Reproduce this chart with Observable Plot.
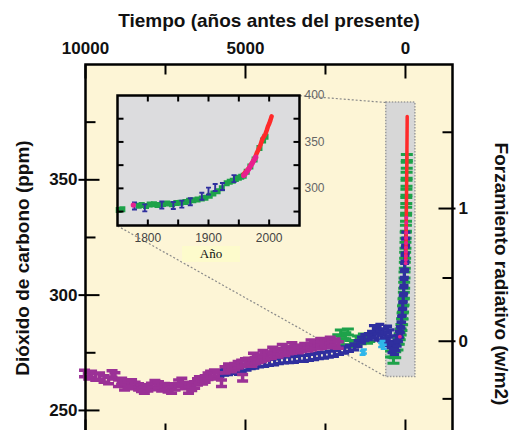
<!DOCTYPE html>
<html><head><meta charset="utf-8">
<script src="https://cdn.jsdelivr.net/npm/d3@7"></script>
<script src="https://cdn.jsdelivr.net/npm/@observablehq/plot@0.6"></script>
<style>
html,body{margin:0;padding:0;background:#fff;overflow:hidden;}
#wrap{position:relative;width:512px;height:430px;overflow:hidden;}
#wrap svg{position:absolute;left:0;top:0;}
#ano{position:absolute;font:13px "Liberation Serif","Times New Roman",serif;background:#fdfbcc;text-align:center;color:#111;}
</style></head>
<body><div id="wrap"></div>
<script>
// ---------- text ----------
const xTitle = "Tiempo (años antes del presente)";
const yTitle = "Dióxido de carbono (ppm)";
const y2Title = "Forzamiento radiativo (w/m2)";
const insetXTitle = "Año";

// ---------- axes ----------
const xMajor = [10000, 5000, 0];
const xMinor = [7500, 2500];
const yMajor = [250, 300, 350];
const yMinor = [275, 325, 375];
const fMajor = [0, 1];
const fMinor = [-0.5, 0.5, 1.5];
const insetXTicks = [1800, 1850, 1900, 1950, 2000];
const insetXLabels = [1800, 1900, 2000];
const insetYTicks = [275, 300, 325, 350, 375];
const insetYLabels = [300, 350, 400];
const PRESENT = 1950;      // "antes del presente" reference year
const F_C0 = 280, F_K = 5.35; // radiative forcing = K ln(C/C0)

// ---------- main series (años antes del presente, ppm) ----------
const purpleAge = [10030,9900,9810,9680,9560,9420,9280,9170,9080,8970,8870,8780,8670,8560,8450,8340,8250,8160,8050,7940,7830,7720,7620,7530,7420,7310,7200,7090,6990,6880,6780,6680,6590,6500,6440,6340,6260,6170,6090,5970,5860,5750,5640,5530,5440,5340,5230,5120,5090,5000,4910,4800,4750,4700,4600,4500,4450,4400,4300,4190,4150,4090,3980,3875,3850,3770,3660,3560,3550,3460,3350,3250,3150,3050,2950,2940,2840,2730,2650,2625,2520,2420,2350,2310,2200,2100];
const purpleCO2 = [266.0,265.0,265.6,264.5,264.8,263.6,263.0,265.8,265.0,261.8,262.6,260.2,261.0,261.9,260.8,260.2,259.6,258.8,259.8,260.4,261.6,261.0,259.8,260.3,259.4,258.8,260.2,261.8,262.6,260.8,258.8,260.0,261.0,262.4,263.2,262.8,263.6,264.8,265.6,266.2,265.0,261.8,267.6,268.8,268.2,269.0,269.8,270.4,264.2,271.0,271.2,270.6,273.4,271.6,272.2,272.6,274.6,273.2,273.8,274.0,276.0,274.8,274.6,275.5,277.2,275.2,276.0,276.2,278.0,276.8,276.4,276.9,277.6,277.2,279.2,277.6,278.4,278.0,279.8,278.4,279.0,278.6,280.4,279.1,279.6,278.4];

const blueAge = [5800,5650,5530,5400,5220,5100,4950,4820,4710,4560,4400,4250,4090,3940,3780,3620,3470,3310,3160,3000,2840,2690,2530,2380,2220,2060,1900,1750,1590,1480,1375,1270,1160,1060,1000,970,900,860,800,750,700,640,600,560,530,480,450,420,375,340,300,260,220,190,160,140,120,100,85,70,55,45,35,25,15,5,-5,-12];
const blueCO2 = [266.0,266.6,266.8,267.4,267.0,268.2,268.8,269.4,269.7,270.2,270.4,270.8,271.1,271.6,271.9,272.0,272.2,272.6,272.6,273.0,273.3,273.8,274.0,274.4,274.8,275.6,276.2,276.9,277.6,279.0,280.5,281.6,282.0,283.0,285.5,282.7,284.6,281.8,286.0,281.5,284.0,282.5,279.5,285.2,280.5,283.6,278.6,276.4,277.8,275.6,277.2,279.2,281.2,283.0,285.0,287.0,289.5,292.5,295.5,298.5,302.0,305.5,309.0,312.5,316.0,319.5,323.0,326.0];

const greenAge = [2100,2020,1950,1880,1800,1720,1480,1400,1300,1200,1130,450,375,320,250,210,180,150,125,105,90,75,60,50,40,30,20,10,0,-8,-14,-18,-22,-26,-30,-33,-36,-40,-43];
const greenCO2 = [281.5,283.6,279.8,282.4,284.0,279.0,281.0,280.2,281.8,280.4,281.2,274.5,271.8,274.2,277.5,280.0,282.0,284.0,286.0,288.5,291.0,294.0,297.0,300.0,304.3,308.7,313.0,317.3,321.6,326.0,329.0,333.3,336.8,341.0,344.6,348.5,352.0,356.3,359.7];

const cyanAge = [1340,1300,760,720,680];
const cyanCO2 = [275.0,275.6,278.4,279.2,277.6];

// ---------- recent series (año, ppm) ----------
const redYear = [1958,1960,1962,1964,1966,1968,1970,1972,1974,1976,1978,1980,1982,1984,1986,1988,1990,1992,1994,1996,1998,2000,2002,2004];
const redCO2  = [315.3,316.9,318.4,319.6,321.4,323.0,325.7,327.4,330.2,332.0,335.4,338.7,341.4,344.4,347.4,351.6,354.4,356.4,358.8,362.6,366.7,369.6,373.2,377.5];
const magentaYear = [1776,1958,1960,1962,1964,1966,1968,1970,1972,1974,1976,1978];
const magentaCO2  = [282.0,313.8,315.2,317.0,318.8,320.6,322.6,324.8,327.0,329.2,331.4,333.6];
const insetGreenYear = [1752,1758,1785,1790,1797,1803,1810,1816,1825,1832,1840,1847,1854,1862,1868,1875,1882,1889,1895,1902,1908,1915,1922,1930,1935,1940,1945,1950,1954,1958,1963,1969,1976,1984,1990,1994];
const insetGreenCO2  = [276.6,277.4,281.4,282.0,281.0,282.6,283.0,282.2,283.2,283.6,283.0,284.2,284.6,285.4,286.6,287.2,288.0,289.0,290.0,292.0,294.5,297.0,300.0,305.5,307.0,308.2,310.0,311.4,312.6,313.6,318.0,323.5,331.0,343.5,351.5,355.5];
const insetBlueYear = [1778,1795,1823,1842,1856,1870,1889,1900,1911,1923,1942];
const insetBlueCO2  = [281.0,279.0,282.0,281.6,283.0,285.5,291.5,297.0,301.0,302.0,310.5];

// ---------- highlighted region & inset placement (main data units) ----------
const zoomBox = {age1: 600, age2: -310, co2lo: 264.5, co2hi: 383.5};
const insetBox = {age1: 9000, age2: 3300, co2lo: 330, co2hi: 386.5};

// ---------- colours ----------
const PURPLE = "#9b3196", BLUE = "#2f2f9e", GREEN = "#1ea24a", CYAN = "#2fb6ea",
      RED = "#ff2a2a", MAGENTA = "#e8208e", BG = "#fdf5d6", GREYBOX = "#d7d7d7", INSETBG = "#dcdcde";
const FONT = '"Liberation Sans", Arial, Helvetica, sans-serif';

// ---------- helpers ----------
const zip = (a, b, ka, kb) => a.map((v, i) => ({[ka]: v, [kb]: b[i]}));
const seg = (x0, y0, x1, y1) => ({draw(c) { c.moveTo(x0, y0); c.lineTo(x1, y1); }});
const errI = (w, h) => ({draw(c) {
  c.moveTo(-w, -h); c.lineTo(w, -h); c.moveTo(0, -h); c.lineTo(0, h); c.moveTo(-w, h); c.lineTo(w, h);
}});
const ppmOfF = f => F_C0 * Math.exp(f / F_K);

const purple = zip(purpleAge, purpleCO2, "age", "co2");
const blue = zip(blueAge, blueCO2, "age", "co2");
const green = zip(greenAge, greenCO2, "age", "co2");
const cyan = zip(cyanAge, cyanCO2, "age", "co2");
const red = redYear.map((y, i) => ({year: y, age: PRESENT - y, co2: redCO2[i]}));
const magenta = magentaYear.map((y, i) => ({year: y, age: PRESENT - y, co2: magentaCO2[i]}));
const iGreen = zip(insetGreenYear, insetGreenCO2, "year", "co2");
const iBlue = zip(insetBlueYear, insetBlueCO2, "year", "co2");

const connectors = [
  {x1: insetBox.age2, y1: insetBox.co2hi, x2: zoomBox.age1, y2: zoomBox.co2hi},
  {x1: insetBox.age1, y1: insetBox.co2lo, x2: zoomBox.age1, y2: zoomBox.co2lo}
];

const boldTxt = {fontFamily: FONT, fontWeight: "bold", fill: "#111"};
const tick = (data, opts) => Plot.dot(data, {fill: "none", stroke: "#000", strokeWidth: 2, ...opts});

const main = Plot.plot({
  width: 512, height: 434,
  marginLeft: 85, marginRight: 60, marginTop: 64, marginBottom: 1,
  style: {fontFamily: FONT, background: "transparent", overflow: "visible"},
  x: {type: "linear", domain: [10000, -1470], axis: null},
  y: {type: "linear", domain: [240, 400], axis: null},
  marks: [
    Plot.frame({fill: BG}),
    Plot.rect([zoomBox], {x1: "age1", x2: "age2", y1: "co2lo", y2: "co2hi", fill: GREYBOX, stroke: "#9c9c9c", strokeWidth: 1.5, strokeDasharray: "1.5,1.5"}),
    Plot.link(connectors, {x1: "x1", y1: "y1", x2: "x2", y2: "y2", stroke: "#8a8a8a", strokeWidth: 1.2, strokeDasharray: "2,2"}),
    Plot.dot(green, {x: "age", y: "co2", symbol: errI(6, 3), fill: "none", stroke: GREEN, strokeWidth: 3}),
    Plot.dot(blue, {x: "age", y: "co2", symbol: errI(4.5, 3), fill: "none", stroke: BLUE, strokeWidth: 3.3}),
    Plot.dot(purple, {x: "age", y: "co2", symbol: errI(5.5, 3.2), fill: "none", stroke: PURPLE, strokeWidth: 3.5}),
    Plot.dot(cyan, {x: "age", y: "co2", symbol: errI(3, 2), fill: "none", stroke: CYAN, strokeWidth: 2.5}),
    Plot.line(red, {x: "age", y: "co2", stroke: RED, strokeWidth: 3.5}),
    Plot.dot(magenta, {x: "age", y: "co2", r: 1.9, fill: MAGENTA}),
    Plot.frame({stroke: "#000", strokeWidth: 2.5}),
    // ticks
    tick(xMajor, {x: d => d, frameAnchor: "top", symbol: seg(0, 0, 0, 14)}),
    tick(xMinor, {x: d => d, frameAnchor: "top", symbol: seg(0, 0, 0, 10)}),
    tick(xMajor, {x: d => d, frameAnchor: "bottom", symbol: seg(0, 0, 0, -14)}),
    tick(xMinor, {x: d => d, frameAnchor: "bottom", symbol: seg(0, 0, 0, -10)}),
    tick(yMajor, {y: d => d, frameAnchor: "left", symbol: seg(-7, 0, 14, 0)}),
    tick(yMinor, {y: d => d, frameAnchor: "left", symbol: seg(0, 0, 10, 0)}),
    tick(fMajor, {y: f => ppmOfF(f), frameAnchor: "right", symbol: seg(-14, 0, 3, 0)}),
    tick(fMinor, {y: f => ppmOfF(f), frameAnchor: "right", symbol: seg(-10, 0, 0, 0)}),
    // tick labels
    Plot.text(xMajor, {x: d => d, text: d => String(d), frameAnchor: "top", dy: -11, textAnchor: "middle", lineAnchor: "bottom", fontSize: 17, ...boldTxt}),
    Plot.text(yMajor, {y: d => d, text: d => String(d), frameAnchor: "left", dx: -8, textAnchor: "end", lineAnchor: "middle", fontSize: 17, ...boldTxt}),
    Plot.text(fMajor, {y: f => ppmOfF(f), text: d => String(d), frameAnchor: "right", dx: 6, textAnchor: "start", lineAnchor: "middle", fontSize: 17, ...boldTxt}),
    // titles
    Plot.text([xTitle], {text: d => d, frameAnchor: "top", dy: -38, textAnchor: "middle", lineAnchor: "bottom", fontSize: 19, ...boldTxt}),
    Plot.text([yTitle], {text: d => d, frameAnchor: "left", dx: -63, dy: 9, rotate: -90, textAnchor: "middle", lineAnchor: "middle", fontSize: 19, ...boldTxt}),
    Plot.text([y2Title], {text: d => d, frameAnchor: "right", dx: 49, dy: 25, rotate: 90, textAnchor: "middle", lineAnchor: "middle", fontSize: 19, ...boldTxt})
  ]
});

const wrap = document.getElementById("wrap");
wrap.appendChild(main);

// ---------- inset, placed by the main chart's scales ----------
const sx = main.scale("x"), sy = main.scale("y");
const ix1 = sx.apply(insetBox.age1), ix2 = sx.apply(insetBox.age2);
const iy1 = sy.apply(insetBox.co2hi), iy2 = sy.apply(insetBox.co2lo);
const IM = {l: 3, t: 3, r: 28, b: 22};
const inset = Plot.plot({
  width: Math.round(ix2 - ix1 + IM.l + IM.r),
  height: Math.round(iy2 - iy1 + IM.t + IM.b),
  marginLeft: IM.l, marginTop: IM.t, marginRight: IM.r, marginBottom: IM.b,
  style: {fontFamily: FONT, background: "transparent", overflow: "visible"},
  x: {type: "linear", domain: [1750, 2050], axis: null},
  y: {type: "linear", domain: [260, 400], axis: null},
  marks: [
    Plot.frame({fill: INSETBG}),
    Plot.dot(iGreen, {x: "year", y: "co2", symbol: errI(3, 1.5), fill: "none", stroke: GREEN, strokeWidth: 3}),
    Plot.dot(iBlue, {x: "year", y: "co2", symbol: errI(2.5, 3.5), fill: "none", stroke: BLUE, strokeWidth: 1.9}),
    Plot.line(red, {x: "year", y: "co2", stroke: RED, strokeWidth: 4.5}),
    Plot.dot(magenta, {x: "year", y: "co2", r: 2.6, fill: MAGENTA}),
    Plot.frame({stroke: "#000", strokeWidth: 2.5}),
    tick(insetXTicks, {x: d => d, frameAnchor: "top", symbol: seg(0, 0, 0, 6)}),
    tick(insetXTicks, {x: d => d, frameAnchor: "bottom", symbol: seg(0, 0, 0, -6)}),
    tick(insetYTicks, {y: d => d, frameAnchor: "left", symbol: seg(0, 0, 6, 0)}),
    tick(insetYTicks, {y: d => d, frameAnchor: "right", symbol: seg(0, 0, -6, 0)}),
    Plot.text(insetXLabels, {x: d => d, text: d => String(d), frameAnchor: "bottom", dy: 13, textAnchor: "middle", lineAnchor: "middle", fontSize: 12, fill: "#444"}),
    Plot.text(insetYLabels, {y: d => d, text: d => String(d), frameAnchor: "right", dx: 5, textAnchor: "start", lineAnchor: "middle", fontSize: 12, fill: "#666"})
  ]
});
inset.style.left = (ix1 - IM.l) + "px";
inset.style.top = (iy1 - IM.t) + "px";
wrap.appendChild(inset);

// "Año" label under the inset's axis
const ano = document.createElement("div");
ano.id = "ano";
ano.textContent = insetXTitle;
const anoW = 58, anoH = 16;
ano.style.width = anoW + "px";
ano.style.height = anoH + "px";
ano.style.lineHeight = anoH + "px";
ano.style.left = Math.round((ix1 + ix2) / 2 - anoW / 2 + 3) + "px";
ano.style.top = Math.round(iy2 + 21) + "px";
wrap.appendChild(ano);
</script>
</body></html>
